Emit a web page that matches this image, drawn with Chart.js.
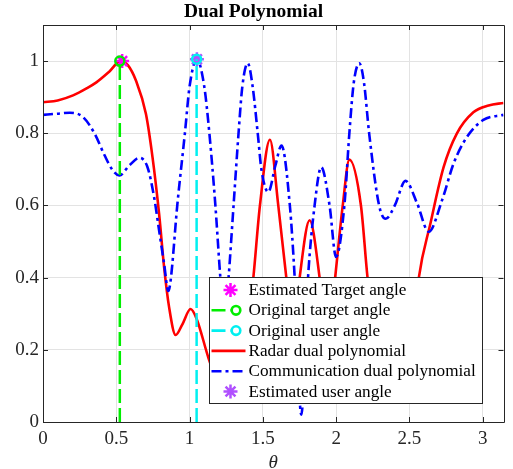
<!DOCTYPE html>
<html>
<head>
<meta charset="utf-8">
<script src="https://cdn.jsdelivr.net/npm/chart.js@4"></script>
<style>
  html, body { margin: 0; padding: 0; background: #ffffff; }
  #wrap { width: 513px; height: 469px; }
</style>
</head>
<body>
<div id="wrap"><canvas id="c" width="513" height="469"></canvas></div>
<script>
// ---- data ----
const thetaRadar = [0, 0.1, 0.205, 0.3, 0.364, 0.45, 0.53, 0.58, 0.634, 0.702, 0.747, 0.792, 0.826, 0.86, 0.905, 0.95, 1.007, 1.047, 1.13, 1.2, 1.3, 1.38, 1.435, 1.48, 1.548, 1.605, 1.66, 1.705, 1.751, 1.819, 1.887, 1.94, 1.993, 2.045, 2.09, 2.169, 2.214, 2.3, 2.42, 2.5, 2.564, 2.643, 2.733, 2.823, 2.936, 3.04, 3.1416];
const radarValues = [0.886, 0.891, 0.905, 0.925, 0.941, 0.97, 1.0, 0.988, 0.946, 0.854, 0.734, 0.577, 0.43, 0.319, 0.241, 0.27, 0.313, 0.287, 0.176, 0.1, 0.06, 0.2, 0.4, 0.6, 0.782, 0.6, 0.4, 0.22, 0.4, 0.559, 0.4, 0.2, 0.4, 0.6, 0.727, 0.6, 0.4, 0.12, 0.25, 0.15, 0.4, 0.55, 0.706, 0.799, 0.858, 0.877, 0.884];

const thetaComm = [0, 0.09, 0.183, 0.273, 0.352, 0.42, 0.476, 0.521, 0.589, 0.657, 0.713, 0.758, 0.792, 0.826, 0.855, 0.871, 0.916, 0.968, 1.0, 1.05, 1.1, 1.135, 1.176, 1.21, 1.238, 1.266, 1.3, 1.334, 1.36, 1.397, 1.43, 1.465, 1.49, 1.537, 1.585, 1.627, 1.684, 1.717, 1.762, 1.808, 1.853, 1.898, 1.955, 1.999, 2.056, 2.09, 2.12, 2.158, 2.19, 2.225, 2.293, 2.338, 2.4, 2.473, 2.553, 2.631, 2.722, 2.801, 2.891, 3.004, 3.1416];
const commValues = [0.851, 0.854, 0.857, 0.845, 0.799, 0.739, 0.697, 0.683, 0.711, 0.732, 0.706, 0.623, 0.531, 0.439, 0.363, 0.393, 0.6, 0.8, 0.93, 1.005, 0.93, 0.8, 0.6, 0.4, 0.27, 0.4, 0.6, 0.8, 0.93, 0.994, 0.93, 0.8, 0.7, 0.637, 0.71, 0.766, 0.6, 0.4, 0.02, 0.4, 0.6, 0.706, 0.6, 0.457, 0.6, 0.8, 0.94, 0.994, 0.94, 0.8, 0.6, 0.563, 0.6, 0.668, 0.605, 0.527, 0.614, 0.716, 0.789, 0.837, 0.851];

const originalTargetAngle = 0.524;
const originalUserAngle = 1.048;
const originalLineTop = [1.0, 1.005];
const estimatedTarget = [0.54, 1.0];
const estimatedUser = [1.05, 1.005];

const xTickValues = [0, 0.5, 1, 1.5, 2, 2.5, 3];
const yTickValues = [0, 0.2, 0.4, 0.6, 0.8, 1];
const xRange = [0, Math.PI];
const yRange = [0, 1.1];

const labels = {
  estTarget: 'Estimated Target angle',
  origTarget: 'Original target angle',
  origUser: 'Original user angle',
  radar: 'Radar dual polynomial',
  comm: 'Communication dual polynomial',
  estUser: 'Estimated user angle'
};

// ---- build datasets ----
const toXY = (xs, ys) => xs.map((x, i) => ({ x: x, y: ys[i] }));
const SERIF = "'Liberation Serif', 'Times New Roman', serif";
const AXIS_COLOR = '#262626';

const datasets = [
  {
    label: labels.estTarget,
    data: [{ x: estimatedTarget[0], y: estimatedTarget[1] }],
    showLine: false, pointStyle: 'star', pointRadius: 7, pointBorderWidth: 2.5,
    borderColor: '#ff00ff', backgroundColor: '#ff00ff', order: 3,
    legendKind: 'star'
  },
  {
    label: labels.origTarget,
    data: [{ x: originalTargetAngle, y: 0 }, { x: originalTargetAngle, y: originalLineTop[0] }],
    borderColor: '#00ee00', borderWidth: 2.5, borderDash: [14, 5],
    pointRadius: (c) => c.dataIndex === 1 ? 4.5 : 0, pointStyle: 'circle',
    pointBorderWidth: 2.5, pointBorderColor: '#00ee00', pointBackgroundColor: 'rgba(0,0,0,0)',
    order: 1, legendKind: 'lineCircle'
  },
  {
    label: labels.origUser,
    data: [{ x: originalUserAngle, y: 0 }, { x: originalUserAngle, y: originalLineTop[1] }],
    borderColor: '#00f0f0', borderWidth: 2.5, borderDash: [14, 5],
    pointRadius: (c) => c.dataIndex === 1 ? 4.5 : 0, pointStyle: 'circle',
    pointBorderWidth: 2.5, pointBorderColor: '#00f0f0', pointBackgroundColor: 'rgba(0,0,0,0)',
    order: 1, legendKind: 'lineCircle'
  },
  {
    label: labels.radar,
    data: toXY(thetaRadar, radarValues),
    borderColor: '#ff0000', borderWidth: 2.6, pointRadius: 0,
    cubicInterpolationMode: 'monotone', order: 5, legendKind: 'line'
  },
  {
    label: labels.comm,
    data: toXY(thetaComm, commValues),
    borderColor: '#0000ff', borderWidth: 2.6, borderDash: [10, 4, 3, 4], pointRadius: 0,
    cubicInterpolationMode: 'monotone', order: 4, legendKind: 'line'
  },
  {
    label: labels.estUser,
    data: [{ x: estimatedUser[0], y: estimatedUser[1] }],
    showLine: false, pointStyle: 'star', pointRadius: 7, pointBorderWidth: 2.5,
    borderColor: '#b050ff', backgroundColor: '#b050ff', order: 3,
    legendKind: 'star'
  }
];

// ---- plugin: MATLAB-like box, inward ticks, legend ----
const boxPlugin = {
  id: 'matlabBox',
  afterDatasetsDraw(chart) {
    const { ctx, chartArea: a, scales } = chart;
    ctx.save();
    ctx.strokeStyle = AXIS_COLOR;
    ctx.lineWidth = 1;
    const L = 5;
    ctx.beginPath();
    xTickValues.forEach(v => {
      const px = Math.round(scales.x.getPixelForValue(v)) + 0.5;
      ctx.moveTo(px, a.bottom); ctx.lineTo(px, a.bottom - L);
      ctx.moveTo(px, a.top); ctx.lineTo(px, a.top + L);
    });
    yTickValues.forEach(v => {
      const py = Math.round(scales.y.getPixelForValue(v)) + 0.5;
      ctx.moveTo(a.left, py); ctx.lineTo(a.left + L, py);
      ctx.moveTo(a.right, py); ctx.lineTo(a.right - L, py);
    });
    ctx.stroke();
    ctx.beginPath();
    ctx.rect(Math.round(a.left) + 0.5, Math.round(a.top) + 0.5, Math.round(a.right - a.left), Math.round(a.bottom - a.top));
    ctx.stroke();
    ctx.restore();
    drawLegend(chart);
  }
};

function drawLegend(chart) {
  const { ctx, chartArea: a } = chart;
  const x0 = a.left + 166.5, y0 = a.top + 252.5, w = 273, h = 126;
  const rowH = 20.3;
  ctx.save();
  ctx.fillStyle = '#ffffff';
  ctx.fillRect(x0, y0, w, h);
  ctx.strokeStyle = AXIS_COLOR;
  ctx.lineWidth = 1;
  ctx.strokeRect(x0, y0, w, h);
  chart.data.datasets.forEach((ds, i) => {
    const cy = y0 + 12.5 + i * rowH;
    ctx.save();
    ctx.strokeStyle = ds.borderColor;
    ctx.lineWidth = ds.legendKind === 'star' ? 2.5 : 2.6;
    if (ds.legendKind === 'line' || ds.legendKind === 'lineCircle') {
      ctx.setLineDash(ds.borderDash || []);
      ctx.beginPath();
      ctx.moveTo(x0 + 2, cy);
      ctx.lineTo(ds.legendKind === 'lineCircle' ? x0 + 23 : x0 + 36, cy);
      ctx.stroke();
      ctx.setLineDash([]);
      if (ds.legendKind === 'lineCircle') {
        ctx.beginPath();
        ctx.arc(x0 + 26.5, cy, 4.3, 0, Math.PI * 2);
        ctx.stroke();
      }
    } else {
      const cx = x0 + 21, r = 7;
      ctx.beginPath();
      for (let k = 0; k < 4; k++) {
        const ang = k * Math.PI / 4;
        ctx.moveTo(cx - r * Math.cos(ang), cy - r * Math.sin(ang));
        ctx.lineTo(cx + r * Math.cos(ang), cy + r * Math.sin(ang));
      }
      ctx.stroke();
    }
    ctx.restore();
    ctx.fillStyle = '#000000';
    ctx.font = "17.2px " + SERIF;
    ctx.textBaseline = 'middle';
    ctx.textAlign = 'left';
    ctx.fillText(ds.label, x0 + 39, cy + 0.5);
  });
  ctx.restore();
}

new Chart(document.getElementById('c'), {
  type: 'line',
  data: { datasets: datasets },
  options: {
    responsive: false,
    animation: false,
    devicePixelRatio: 1,
    layout: { padding: { top: 0, right: 6, left: 0, bottom: 0 } },
    plugins: {
      legend: { display: false },
      tooltip: { enabled: false },
      title: {
        display: true, text: 'Dual Polynomial', color: '#000000',
        font: { family: SERIF, size: 19.5, weight: 'bold', lineHeight: 1.2 },
        padding: { top: 0.2, bottom: 1.4 }
      }
    },
    scales: {
      x: {
        type: 'linear', min: xRange[0], max: xRange[1],
        afterFit: (s) => { s.height = 47; },
        afterBuildTicks: (s) => { s.ticks = xTickValues.map(v => ({ value: v })); },
        ticks: {
          color: AXIS_COLOR, padding: 6, maxRotation: 0, autoSkip: false,
          font: { family: SERIF, size: 19 },
          callback: (v) => String(v)
        },
        grid: { color: '#e3e3e3', lineWidth: 1, drawTicks: false },
        border: { display: false },
        title: {
          display: true, text: 'θ', color: AXIS_COLOR,
          font: { family: SERIF, size: 19, style: 'italic', lineHeight: 1 },
          padding: { top: 0, bottom: -3 }
        }
      },
      y: {
        type: 'linear', min: yRange[0], max: yRange[1],
        afterFit: (s) => { s.width = 43; },
        afterBuildTicks: (s) => { s.ticks = yTickValues.map(v => ({ value: v })); },
        ticks: {
          color: AXIS_COLOR, padding: 4,
          font: { family: SERIF, size: 19 },
          callback: (v) => String(Math.round(v * 10) / 10)
        },
        grid: { color: '#e3e3e3', lineWidth: 1, drawTicks: false },
        border: { display: false }
      }
    }
  },
  plugins: [boxPlugin]
});
</script>
</body>
</html>
